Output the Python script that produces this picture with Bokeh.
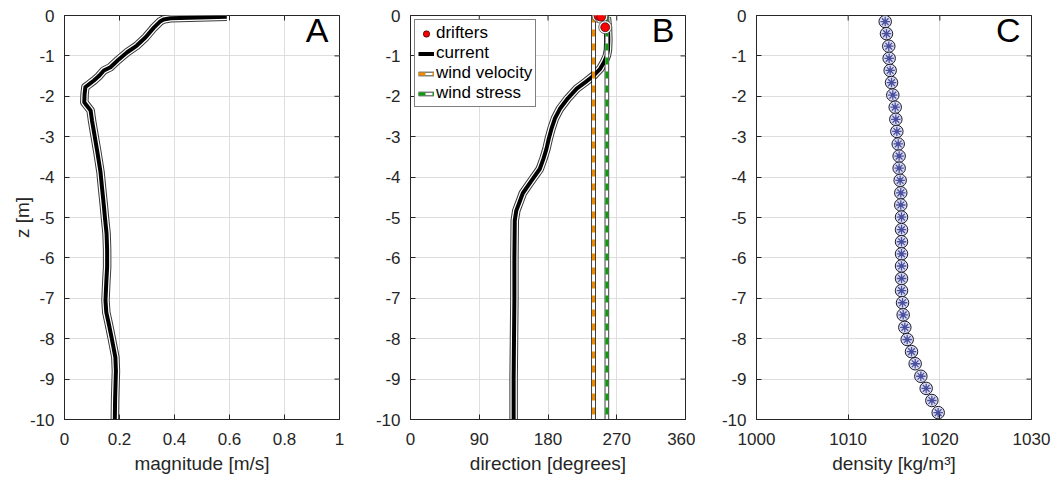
import math
from bokeh.plotting import figure
from bokeh.layouts import row
from bokeh.models import Range1d, FixedTicker, Label, Legend, LegendItem
from bokeh.embed import file_html
from bokeh.resources import INLINE

# ---------------- data ----------------
# Panel A: current magnitude profile
mag_z = [-0.03, -0.07, -0.10, -0.14, -0.30, -0.54, -0.75, -0.91, -1.10, -1.28, -1.36,
         -1.50, -1.61, -1.70, -1.77, -1.95, -2.15, -2.22, -2.35, -2.60, -3.00, -3.40,
         -3.88, -4.30, -4.70, -5.00, -5.40, -5.80, -6.23, -6.60, -7.05, -7.35, -7.63,
         -8.00, -8.46, -8.80, -9.03, -9.50, -10.00]
magnitude = [0.59, 0.385, 0.36, 0.349, 0.325, 0.295, 0.262, 0.228, 0.195, 0.167, 0.143,
             0.125, 0.107, 0.090, 0.076, 0.073, 0.072, 0.080, 0.095, 0.100, 0.110, 0.120,
             0.131, 0.137, 0.143, 0.147, 0.153, 0.155, 0.155, 0.152, 0.149, 0.152, 0.161,
             0.172, 0.185, 0.187, 0.186, 0.184, 0.183]

# Panel B: current direction profile, drifters, wind
cur_z = [-0.05, -0.30, -0.60, -0.85, -1.00, -1.15, -1.32, -1.49, -1.65, -1.81, -2.05,
         -2.31, -2.55, -2.80, -3.05, -3.30, -3.55, -3.80, -4.10, -4.40, -4.58, -4.83,
         -5.07, -6.00, -7.00, -8.00, -9.00, -10.00]
cur_dir = [257.0, 258.5, 259.0, 258.5, 257.0, 253.5, 248.3, 239.6, 229.0, 217.6, 206.0,
           195.6, 189.0, 184.6, 181.0, 178.0, 174.0, 169.2, 158.0, 147.0, 143.5, 138.5,
           136.5, 136.0, 136.0, 135.5, 135.0, 135.0]
drifter_dir = [246.2, 249.6, 254.9]
drifter_z = [-0.01, -0.03, -0.29]
wind_velocity_dir = 239.6
wind_stress_dir = 257.1

# Panel C: density profile
dens_z = [-0.15, -0.45, -0.76, -1.06, -1.36, -1.66, -1.97, -2.27, -2.57, -2.87, -3.18,
          -3.48, -3.78, -4.08, -4.39, -4.69, -4.99, -5.30, -5.60, -5.90, -6.20, -6.51,
          -6.81, -7.11, -7.41, -7.72, -8.02, -8.32, -8.62, -8.93, -9.23, -9.53, -9.83]
density = [1014.04, 1014.18, 1014.43, 1014.47, 1014.58, 1014.73, 1014.87, 1015.13, 1015.20,
           1015.31, 1015.46, 1015.56, 1015.56, 1015.67, 1015.74, 1015.74, 1015.82, 1015.82,
           1015.82, 1015.82, 1015.82, 1015.82, 1015.82, 1015.93, 1016.00, 1016.18, 1016.44,
           1016.91, 1017.31, 1017.93, 1018.51, 1019.13, 1019.82]

# ticks
y_ticks = [0, -1, -2, -3, -4, -5, -6, -7, -8, -9, -10]
y_tick_labels = ["0", "-1", "-2", "-3", "-4", "-5", "-6", "-7", "-8", "-9", "-10"]
a_ticks = [0, 0.2, 0.4, 0.6, 0.8, 1]
a_tick_labels = ["0", "0.2", "0.4", "0.6", "0.8", "1"]
b_ticks = [0, 90, 180, 270, 360]
b_tick_labels = ["0", "90", "180", "270", "360"]
c_ticks = [1000, 1010, 1020, 1030]
c_tick_labels = ["1000", "1010", "1020", "1030"]

FONT = "Liberation Sans"
AX = "#262626"
GRID = "#dedede"
TOP = 15
BOTTOM = 64


def style_axis(ax, ticks, labels, standoff):
    ax.ticker = FixedTicker(ticks=ticks)
    ax.major_label_overrides = dict(zip(ticks, labels))
    ax.major_tick_in = 5
    ax.major_tick_out = 0
    ax.minor_tick_in = 0
    ax.minor_tick_out = 0
    ax.axis_line_color = AX
    ax.major_tick_line_color = AX
    ax.major_label_text_color = AX
    ax.major_label_text_font = FONT
    ax.major_label_text_font_size = "17px"
    ax.major_label_standoff = standoff
    ax.axis_label_text_font = FONT
    ax.axis_label_text_font_style = "normal"
    ax.axis_label_text_color = AX
    ax.axis_label_text_font_size = "19px"
    ax.axis_label_standoff = 5


def make_fig(xr, xticks, xlabels, xlabel, ylabel, left, right):
    p = figure(width=left + 275 + right, height=TOP + 404 + BOTTOM,
               x_range=Range1d(*xr), y_range=Range1d(-10, 0),
               output_backend="svg", toolbar_location=None,
               min_border_left=left, min_border_right=right,
               min_border_top=TOP, min_border_bottom=BOTTOM)
    p.outline_line_color = AX
    p.outline_line_alpha = 1
    style_axis(p.xaxis[0], xticks, xlabels, 13)
    style_axis(p.yaxis[0], y_ticks, y_tick_labels, 10)
    p.xaxis[0].axis_label = xlabel
    if ylabel:
        p.yaxis[0].axis_label = ylabel
        p.yaxis[0].axis_label_standoff = -6
    p.xgrid.ticker = FixedTicker(ticks=xticks)
    p.ygrid.ticker = FixedTicker(ticks=y_ticks)
    p.xgrid.grid_line_color = GRID
    p.ygrid.grid_line_color = GRID
    # inward ticks on the top and right edges of the box (half of each dash is clipped)
    p.scatter(xticks, [0] * len(xticks), marker="dash",
              angle=math.pi / 2, size=10, line_color=AX, line_width=1)
    p.scatter([xr[1]] * len(y_ticks), y_ticks, marker="dash",
              size=10, line_color=AX, line_width=1)
    return p


def add_letter(p, xmax, text):
    p.add_layout(Label(x=xmax, y=-0.36, x_offset=-11, text=text, text_align="right",
                       text_baseline="alphabetic", text_font=FONT,
                       text_font_size="34px", text_color="black"))


# ---------- Panel A ----------
pA = make_fig((0, 1), a_ticks, a_tick_labels, "magnitude [m/s]", "z [m]", 64, 10)
pA.line(magnitude, mag_z, line_color="#3a3a3a", line_width=8.5, line_join="round")
pA.line(magnitude, mag_z, line_color="white", line_width=6.5, line_join="round")
pA.line(magnitude, mag_z, line_color="black", line_width=4, line_join="round")
add_letter(pA, 1, "A")

# ---------- Panel B ----------
pB = make_fig((0, 360), b_ticks, b_tick_labels, "direction [degrees]", None, 61, 10)
pB.line(cur_dir, cur_z, line_color="#3a3a3a", line_width=8.5, line_join="round")
pB.line(cur_dir, cur_z, line_color="white", line_width=6.5, line_join="round")
r_cur = pB.line(cur_dir, cur_z, line_color="black", line_width=4, line_join="round")

wv_x = [wind_velocity_dir, wind_velocity_dir]
ws_x = [wind_stress_dir, wind_stress_dir]
wind_y = [0, -10]
r_wv1 = pB.line(wv_x, wind_y, line_color="black", line_width=4.5)
r_wv2 = pB.line(wv_x, wind_y, line_color="white", line_width=3)
r_wv3 = pB.line(wv_x, wind_y, line_color="#ee8a00", line_width=3, line_dash="7 7")
r_ws1 = pB.line(ws_x, wind_y, line_color="black", line_width=4.5)
r_ws2 = pB.line(ws_x, wind_y, line_color="white", line_width=3)
r_ws3 = pB.line(ws_x, wind_y, line_color="#119911", line_width=3, line_dash="7 7")

pB.scatter(drifter_dir, drifter_z, size=13, fill_color="white", line_color="#444444", line_width=0.8)
r_dr = pB.scatter(drifter_dir, drifter_z, size=9, fill_color="red", line_color="black", line_width=0.6)

legend = Legend(items=[
    LegendItem(label="drifters", renderers=[r_dr]),
    LegendItem(label="current", renderers=[r_cur]),
    LegendItem(label="wind velocity", renderers=[r_wv1, r_wv2, r_wv3]),
    LegendItem(label="wind stress", renderers=[r_ws1, r_ws2, r_ws3]),
], location="top_left")
legend.border_line_color = "black"
legend.border_line_width = 1
legend.background_fill_color = "white"
legend.background_fill_alpha = 1
legend.label_text_font = FONT
legend.label_text_font_size = "17px"
legend.label_text_color = "black"
legend.glyph_width = 16
legend.glyph_height = 19
legend.label_height = 19
legend.label_standoff = 2
legend.spacing = 0
legend.padding = 3
legend.margin = 4
pB.add_layout(legend)
add_letter(pB, 360, "B")

# ---------- Panel C ----------
pC = make_fig((1000, 1030), c_ticks, c_tick_labels, "density [kg/m³]", None, 61, 20)
pC.scatter(density, dens_z, size=12.5, fill_color="#dcdcf0", line_color="#1a1a2a", line_width=1)
pC.scatter(density, dens_z, marker="asterisk", size=9.5, line_color="#4a50a0", line_width=1.3)
pC.scatter(density, dens_z, size=3, fill_color="#4a50a0", line_color="#4a50a0")
add_letter(pC, 1030, "C")

layout = row(pA, pB, pC)
open("out.html", "w").write(file_html(layout, INLINE))
